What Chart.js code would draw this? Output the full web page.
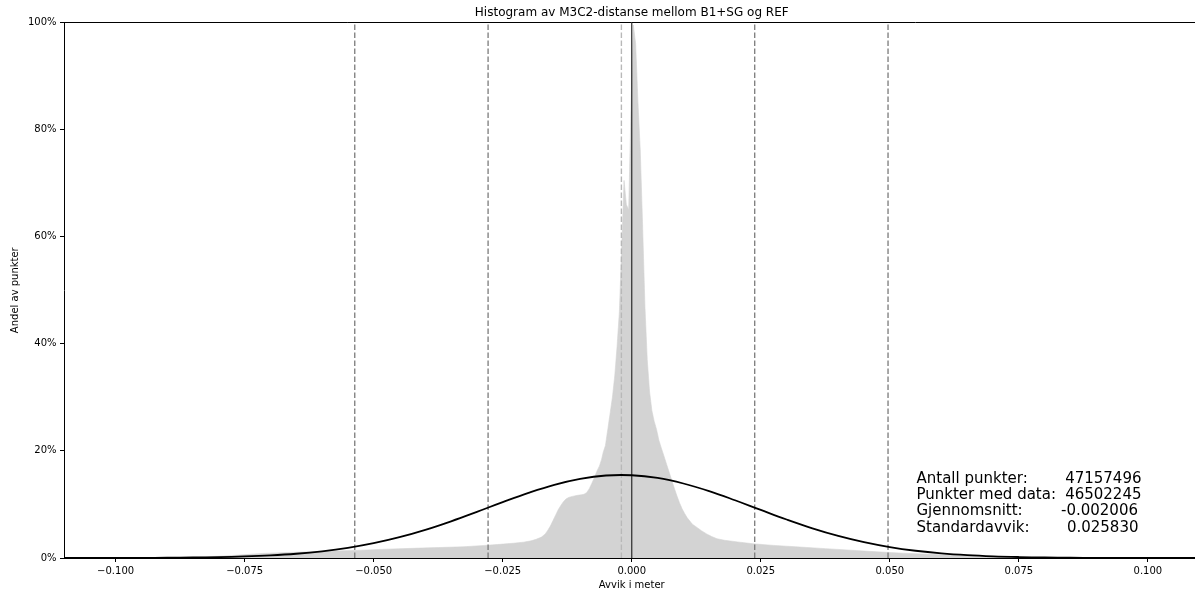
<!DOCTYPE html>
<html><head><meta charset="utf-8">
<script src="https://cdn.jsdelivr.net/npm/chart.js@4.4.1/dist/chart.umd.min.js"></script>
<style>
html,body{margin:0;padding:0;overflow:hidden;background:#fff;width:1195px;height:594px}
#wrap{position:absolute;left:0;top:0;width:1210px;height:594px}
</style>
</head><body><div id="wrap"><canvas id="c" width="1210" height="594"></canvas></div>
<script>
// Histogram: left bin edges (m) and share of points (% of max bin)
const histEdges = [-0.110,-0.104,-0.098,-0.094,-0.090,-0.086,-0.082,-0.079,-0.076,-0.073,-0.070,-0.065,-0.060,-0.055,-0.050,-0.045,-0.040,-0.035,-0.030,-0.027,-0.024,-0.022,-0.020,-0.019,-0.018,-0.017,-0.0165,-0.016,-0.0155,-0.015,-0.0145,-0.014,-0.0135,-0.013,-0.0125,-0.012,-0.011,-0.010,-0.0095,-0.009,-0.0085,-0.008,-0.0075,-0.007,-0.0065,-0.006,-0.0057,
  -0.00532,-0.00487,-0.00442,-0.00397,-0.00352,-0.00307,-0.00262,-0.00217,-0.00172,-0.00127,-0.00082,-0.00037,0.00008,0.00053,0.00098,0.00143,0.00188,0.00233,0.00278,0.00323,0.00368,0.00413,0.00458,0.00503,
  0.00548,0.006,0.0065,0.007,0.0075,0.008,0.0085,0.009,0.0095,0.010,0.0105,0.011,0.0115,0.012,0.013,0.014,0.015,0.016,0.017,0.019,0.022,0.025,0.030,0.035,0.040,0.045,0.050,0.055,0.060,0.065,0.070,0.075,0.080,0.086,0.092,0.100,0.110];
const histValues = [0,0.01,0.03,0.06,0.1,0.18,0.3,0.45,0.65,0.85,1.0,1.15,1.3,1.45,1.65,1.8,1.95,2.1,2.35,2.55,2.75,2.95,3.2,3.5,3.9,4.5,5.2,6.0,7.0,8.0,9.0,9.8,10.5,11.0,11.3,11.5,11.7,11.8,11.9,12.2,12.9,13.9,15.0,16.2,17.2,18.4,19.8,
  21,24,27,30,34,39.5,46,58,70.5,66,65,84,99.5,96,85,76,62,47,37,31,27.5,25.5,24,22,
  20.5,19,17.5,16,14.5,13,11.6,10.3,9.2,8.3,7.5,6.9,6.3,5.8,5.1,4.5,4.0,3.6,3.3,3.0,2.65,2.35,2.05,1.75,1.45,1.15,0.9,0.7,0.5,0.32,0.18,0.1,0.05,0.02,0.01,0,0];

// Fitted normal curve (%)
const curveX = [-0.110,-0.105,-0.100,-0.095,-0.090,-0.085,-0.080,-0.075,-0.070,-0.065,-0.060,-0.055,-0.050,-0.045,-0.040,-0.035,-0.030,-0.025,-0.020,-0.015,-0.010,-0.005,0.000,0.005,0.010,0.015,0.020,0.025,0.030,0.035,0.040,0.045,0.050,0.055,0.060,0.065,0.070,0.075,0.080,0.085,0.090,0.095,0.100,0.105,0.110];
const curveY = [0.0025,0.0055,0.0116,0.0238,0.0468,0.0887,0.162,0.286,0.485,0.792,1.247,1.890,2.759,3.880,5.255,6.856,8.615,10.43,12.16,13.66,14.77,15.40,15.45,14.94,13.91,12.48,10.78,8.97,7.19,5.55,4.13,2.96,2.04,1.357,0.869,0.536,0.318,0.182,0.100,0.053,0.027,0.0134,0.0064,0.0029,0.0013];

const meanValue = -0.002006;
const stdValue = 0.025830;
const sigmaSteps = [-2,-1,1,2];
const yTickValues = [0,20,40,60,80,100];
const statLabels = ['Antall punkter:','Punkter med data:','Gjennomsnitt:','Standardavvik:'];
const statValues = ['47157496','46502245','-0.002006','0.025830'];

const FONT = 'DejaVu Sans';
Chart.defaults.font.family = FONT;
Chart.defaults.color = '#000';

const vline = (x, color, dash, width) => ({
  data:[{x:x,y:0},{x:x,y:100}], borderColor:color, borderWidth:width, borderDash:dash,
  pointRadius:0, fill:false, tension:0
});

// histogram outline: one point per bin at the bin centre
const histPoints = [{x:histEdges[0], y:0}];
for (let i = 0; i < histEdges.length - 1; i++) {
  histPoints.push({x:(histEdges[i] + histEdges[i+1]) / 2, y:histValues[i]});
}
histPoints.push({x:histEdges[histEdges.length-1], y:0});

const datasets = [];
datasets.push({data:curveX.map((x,i)=>({x:x,y:curveY[i]})), borderColor:'#000', borderWidth:1.8,
  pointRadius:0, fill:false, tension:0.4});
datasets.push(vline(0, '#2a2a2a', [], 1.2));
datasets.push(vline(meanValue, '#b8b8b8', [5.5,2.5], 1.4));
sigmaSteps.forEach(k => datasets.push(vline(meanValue + k*stdValue, '#7a7a7a', [5.5,2.5], 1.3)));
datasets.push({data:histPoints, fill:'origin', tension:0,
  backgroundColor:'#d3d3d3', borderColor:'#d3d3d3', borderWidth:0.6, pointRadius:0});

const frame = {
  id:'frame',
  afterDatasetsDraw(chart){
    const {ctx, chartArea:a} = chart;
    ctx.save();
    ctx.strokeStyle = '#000'; ctx.lineWidth = 1;
    ctx.beginPath(); ctx.moveTo(a.left, Math.round(a.top)+0.5); ctx.lineTo(a.right, Math.round(a.top)+0.5); ctx.stroke();
    ctx.fillStyle = '#000';
    ctx.font = '15px "' + FONT + '"';
    ctx.textBaseline = 'alphabetic';
    const base = [482.7, 499.0, 515.3, 531.6];
    const rightX = [1141.5, 1141.5, 1138.0, 1138.5];
    statLabels.forEach((t,i)=>{
      ctx.textAlign = 'left'; ctx.fillText(t, 916.5, base[i]);
      ctx.textAlign = 'right'; ctx.fillText(statValues[i], rightX[i], base[i]);
    });
    ctx.restore();
  }
};

new Chart(document.getElementById('c'), {
  type:'line',
  data:{datasets},
  options:{
    responsive:false, animation:false, devicePixelRatio:1,
    layout:{padding:{left:0,right:10.5,top:0,bottom:0}},
    plugins:{
      legend:{display:false}, tooltip:{enabled:false},
      title:{display:true, text:'Histogram av M3C2-distanse mellom B1+SG og REF', fullSize:false,
        color:'#000', font:{family:FONT,size:12,weight:'normal'}, padding:{top:6,bottom:2}}
    },
    scales:{
      x:{type:'linear', min:-0.11, max:0.11,
        afterFit(s){ s.height = 36; },
        ticks:{stepSize:0.025, includeBounds:false, autoSkip:false, maxRotation:0, color:'#000',
          font:{family:FONT,size:10}, padding:3,
          callback(v){ const s=(Math.abs(v)<1e-9?0:v).toFixed(3); return s.replace('-','\u2212'); }},
        grid:{display:true, drawOnChartArea:false, drawTicks:true, tickLength:4, color:'#000', lineWidth:1},
        border:{display:true, color:'#000', width:1},
        title:{display:true, text:'Avvik i meter', color:'#000', font:{family:FONT,size:10}, padding:{top:0,bottom:3}}
      },
      y:{min:0, max:100,
        afterFit(s){ s.width = 64; },
        afterBuildTicks(s){ s.ticks = yTickValues.map(v=>({value:v})); },
        ticks:{color:'#000', font:{family:FONT,size:10}, padding:3.5, callback:v=>v+'%'},
        grid:{display:true, drawOnChartArea:false, drawTicks:true, tickLength:4, color:'#000', lineWidth:1},
        border:{display:true, color:'#000', width:1},
        title:{display:true, text:'Andel av punkter', color:'#000', font:{family:FONT,size:10}, padding:{top:9,bottom:0}}
      }
    }
  },
  plugins:[frame]
});
</script>
</body></html>
